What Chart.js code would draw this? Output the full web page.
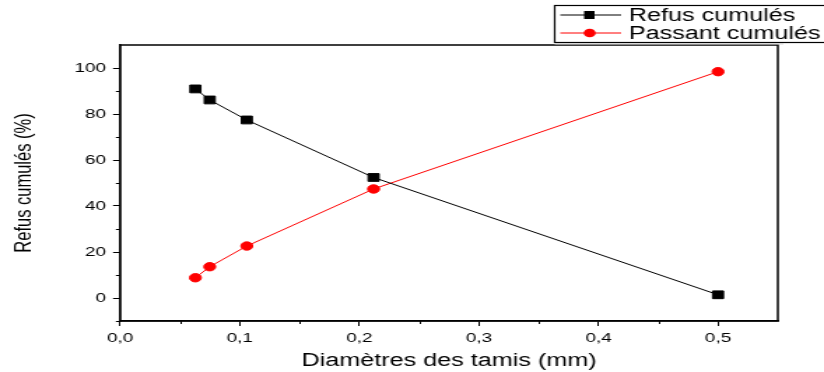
<!DOCTYPE html>
<html><head><meta charset="utf-8">
<script src="https://cdn.jsdelivr.net/npm/chart.js@4/dist/chart.umd.min.js"></script>
<style>html,body{margin:0;padding:0;background:#fff;overflow:hidden;}#wrap{position:relative;width:824px;height:372px;overflow:hidden;}
#c{display:block;width:589px;height:372px;transform:scaleX(1.39898);transform-origin:0 0;}</style>
</head><body><div id="wrap"><canvas id="c" width="589" height="372"></canvas></div>
<script>
const diameters = [0.063, 0.075, 0.106, 0.212, 0.5];
const refusCumules = [90.9, 86.1, 77.4, 52.4, 1.4];
const passantCumules = [8.8, 13.6, 22.6, 47.4, 98.4];
const seriesNames = ['Refus cumulés', 'Passant cumulés'];
const xTicks = [0, 0.1, 0.2, 0.3, 0.4, 0.5];
const yTicks = [0, 20, 40, 60, 80, 100];
const xMinor = [0.05, 0.15, 0.25, 0.35, 0.45];
const yMinor = [-10, 10, 30, 50, 70, 90];

const FONT = '"Liberation Sans", Arial, sans-serif';

const frame = {
  id: 'frame',
  afterDraw(chart) {
    const {ctx, chartArea: a, scales} = chart;
    ctx.save();
    ctx.strokeStyle = '#000';
    ctx.lineWidth = 1.5;
    ctx.strokeRect(a.left, a.top, a.right - a.left, a.bottom - a.top);
    ctx.lineWidth = 1;
    ctx.beginPath();
    xMinor.forEach(v => { const p = Math.round(scales.x.getPixelForValue(v)) + 0.5; ctx.moveTo(p, a.bottom); ctx.lineTo(p, a.bottom + 3); });
    yMinor.forEach(v => { const p = Math.round(scales.y.getPixelForValue(v)) + 0.5; ctx.moveTo(a.left, p); ctx.lineTo(a.left - 3, p); });
    ctx.stroke();
    // legend
    const lx = 396.5, ly = 5.5, lw = 200, lh = 37;
    ctx.strokeStyle = '#d8d8d8';
    ctx.beginPath(); ctx.moveTo(lx, ly + lh + 1.5); ctx.lineTo(560, ly + lh + 1.5); ctx.stroke();
    ctx.strokeStyle = '#000';
    ctx.lineWidth = 1.2;
    ctx.strokeRect(lx, ly, lw, lh);
    const rows = [{y: 15, color: '#000', style: 'rect'}, {y: 33, color: '#ff0000', style: 'circle'}];
    ctx.font = '18px ' + FONT;
    ctx.textBaseline = 'middle';
    rows.forEach((r, i) => {
      ctx.strokeStyle = r.color; ctx.fillStyle = r.color; ctx.lineWidth = 1;
      ctx.beginPath(); ctx.moveTo(400.5, r.y); ctx.lineTo(444, r.y); ctx.stroke();
      if (r.style === 'rect') { ctx.fillRect(417.5, r.y - 4, 7.5, 8); }
      else { ctx.beginPath(); ctx.arc(421.5, r.y, 4.3, 0, Math.PI * 2); ctx.fill(); }
      ctx.fillStyle = '#000';
      ctx.fillText(seriesNames[i], 449.5, r.y + 1);
    });
    ctx.restore();
  }
};

new Chart(document.getElementById('c'), {
  type: 'scatter',
  data: {
    datasets: [
      { label: seriesNames[0], data: diameters.map((x, i) => ({x, y: refusCumules[i]})), showLine: true,
        borderColor: '#000', backgroundColor: '#000', borderWidth: 1, pointStyle: 'rect', pointRadius: 5.5, pointHoverRadius: 5.5 },
      { label: seriesNames[1], data: diameters.map((x, i) => ({x, y: passantCumules[i]})), showLine: true,
        borderColor: '#ff0000', backgroundColor: '#ff0000', borderWidth: 1, pointStyle: 'circle', pointRadius: 4.2, pointHoverRadius: 4.2 }
    ]
  },
  options: {
    responsive: false, animation: false, devicePixelRatio: 1,
    layout: { padding: { top: 45, right: 33, left: 8, bottom: 0 } },
    plugins: { legend: { display: false }, tooltip: { enabled: false } },
    scales: {
      x: {
        type: 'linear', min: 0, max: 0.55,
        afterBuildTicks(s) { s.ticks = xTicks.map(v => ({value: v})); },
        afterFit(s) { s.height = 51; },
        grid: { drawOnChartArea: false, tickLength: 5, color: '#000', tickColor: '#000' },
        border: { display: true, color: '#000', width: 1.5 },
        ticks: { color: '#000', font: { family: FONT, size: 13.5 }, padding: 4,
          callback: v => v.toFixed(1).replace('.', ',') },
        title: { display: true, text: 'Diamètres des tamis (mm)', color: '#000', font: { family: FONT, size: 18 }, padding: { top: 6, bottom: 0 } }
      },
      y: {
        type: 'linear', min: -10, max: 110,
        afterBuildTicks(s) { s.ticks = yTicks.map(v => ({value: v})); },
        afterFit(s) { s.width = 77.8; },
        grid: { drawOnChartArea: false, tickLength: 5, color: '#000', tickColor: '#000' },
        border: { display: true, color: '#000', width: 1.5 },
        ticks: { color: '#000', font: { family: FONT, size: 13.5 }, padding: 5 },
        title: { display: true, text: 'Refus cumulés (%)', color: '#000', font: { family: FONT, size: 16.5 }, padding: { top: 0, bottom: 0 } }
      }
    }
  },
  plugins: [frame]
});
</script></body></html>
